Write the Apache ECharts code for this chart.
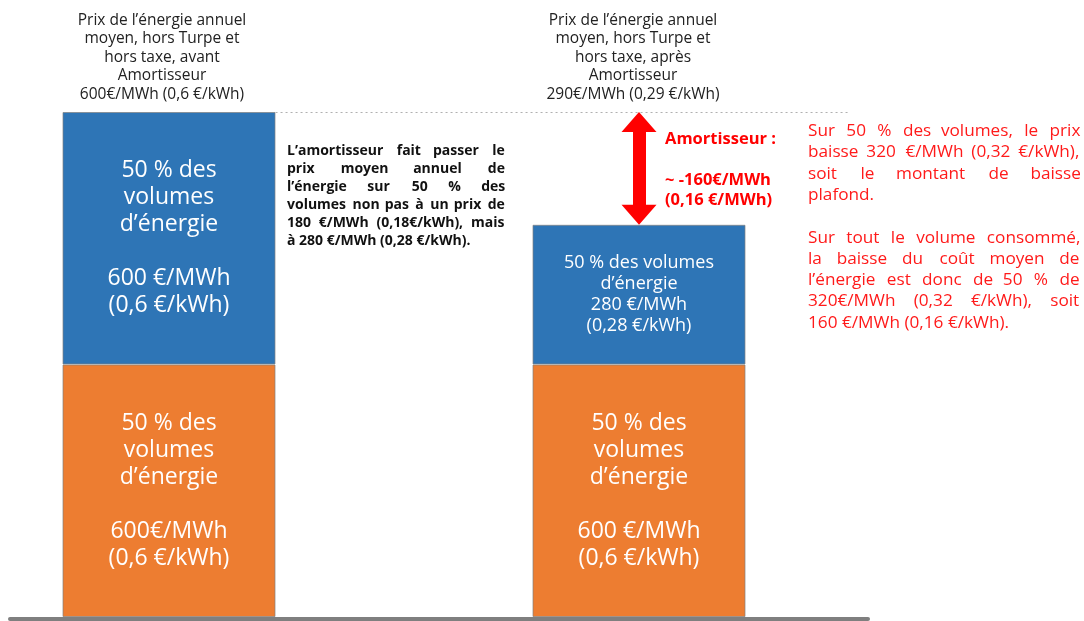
<!DOCTYPE html>
<html><head><meta charset="utf-8">
<script src="https://cdn.jsdelivr.net/npm/echarts@6/dist/echarts.min.js"></script>
<style>html,body{margin:0;padding:0;background:#fff}#c{width:1084px;height:621px}</style>
</head><body><div id="c"></div>
<script>
// ---- data ----
// empty slots are spacer columns (they hold the explanatory notes)
const categories = ['Avant Amortisseur', '', 'Après Amortisseur', ''];
const orangeValues = [300, '-', 300, '-'];
const blueValues = [300, '-', 166, '-'];
const orangeLabels = [
  "50 % des\nvolumes\nd\u2019énergie\n\n600€/MWh\n(0,6 €/kWh)",
  "",
  "50 % des\nvolumes\nd\u2019énergie\n\n600 €/MWh\n(0,6 €/kWh)",
  ""
];
const blueLabels = [
  "50 % des\nvolumes\nd\u2019énergie\n\n600 €/MWh\n(0,6 €/kWh)",
  "",
  "50 % des volumes\nd\u2019énergie\n280 €/MWh\n(0,28 €/kWh)",
  ""
];
const titles = [
  "Prix de l\u2019énergie annuel\nmoyen, hors Turpe et\nhors taxe, avant\nAmortisseur\n600€/MWh (0,6 €/kWh)",
  "Prix de l\u2019énergie annuel\nmoyen, hors Turpe et\nhors taxe, après\nAmortisseur\n290€/MWh (0,29 €/kWh)"
];
const capLevel = 600;
const capLineSpan = [0.453, 2.889]; // in category-slot units
const middleLines = [
  "L\u2019amortisseur fait passer le",
  "prix moyen annuel de",
  "l\u2019énergie sur 50 % des",
  "volumes non pas à un prix de",
  "180 €/MWh (0,18€/kWh), mais",
  "à 280 €/MWh (0,28 €/kWh)."
];
const arrowTitle = "Amortisseur :";
const arrowValue = "~ -160€/MWh\n(0,16 €/MWh)";
const redPara1 = [
  "Sur 50 % des volumes, le prix",
  "baisse 320 €/MWh (0,32 €/kWh),",
  "soit le montant de baisse",
  "plafond."
];
const redPara2 = [
  "Sur tout le volume consommé,",
  "la baisse du coût moyen de",
  "l\u2019énergie est donc de 50 % de",
  "320€/MWh (0,32 €/kWh), soit",
  "160 €/MWh (0,16 €/kWh)."
];

// ---- layout helpers ----
const FONT = '"Open Sans"';
const GRID_TOP = 112, GRID_BOTTOM = 4, H = 621;
const pxPerUnit = (H - GRID_TOP - GRID_BOTTOM) / capLevel;
const headLen = 20;

const ctx = document.createElement('canvas').getContext('2d');
function justify(lines, font, width) {
  ctx.font = font;
  const sp = ctx.measureText(' ').width;
  const hair = '\u200A';
  const hw = ctx.measureText(hair).width || 1;
  return lines.map((ln, i) => {
    if (i === lines.length - 1) return ln;
    const words = ln.split(' ');
    const gaps = words.length - 1;
    if (gaps < 1) return ln;
    const natural = ctx.measureText(words.join(' ')).width;
    const extra = Math.max(0, width - natural);
    const totalHair = Math.round(extra / hw);
    let out = words[0];
    let used = 0;
    for (let g = 1; g <= gaps; g++) {
      const target = Math.round(totalHair * g / gaps);
      const n = target - used; used = target;
      out += ' ' + hair.repeat(n) + words[g];
    }
    return out;
  }).join('\n');
}

const middleFont = 'bold 14px ' + FONT;
const redFont = '17.2px ' + FONT;
const middleText = justify(middleLines, middleFont, 218);
const redText = justify(redPara1, redFont, 272) + '\n\n' + justify(redPara2, redFont, 272);

const chart = echarts.init(document.getElementById('c'), null, {renderer: 'canvas'});

const orangeData = orangeValues.map((v, i) => ({value: v, label: {formatter: orangeLabels[i]}}));
const blueData = blueValues.map((v, i) => ({
  value: v,
  label: i === 2 ? {formatter: blueLabels[i], fontSize: 18, lineHeight: 21} : {formatter: blueLabels[i]}
}));
const rightTotal = orangeValues[2] + blueValues[2];
const tipShift = (headLen / 2) / pxPerUnit;

const barStyle = {borderColor: 'rgba(130,130,130,0.7)', borderWidth: 1};
const barLabel = {show: true, position: 'inside', color: '#fff', fontFamily: FONT, fontSize: 23, lineHeight: 27};

chart.setOption({
  animation: false,
  grid: [
    {left: 51.5, right: 92.5, top: GRID_TOP, bottom: GRID_BOTTOM},
    {left: 10, right: 216, top: GRID_TOP, bottom: 2}
  ],
  xAxis: [
    {type: 'category', data: categories, show: false},
    {type: 'value', gridIndex: 1, min: -0.677, max: 2.974,
     axisLine: {show: true, onZero: false, lineStyle: {color: '#7f7f7f', width: 4}},
     axisTick: {show: false}, axisLabel: {show: false}, splitLine: {show: false}}
  ],
  yAxis: [
    {type: 'value', min: 0, max: capLevel, show: false, splitLine: {show: false}},
    {type: 'value', gridIndex: 1, min: 0, max: capLevel, show: false, splitLine: {show: false}}
  ],
  series: [
    {
      name: 'orange', type: 'bar', stack: 's', barWidth: 213,
      itemStyle: Object.assign({color: '#ed7d31'}, barStyle),
      label: barLabel,
      data: orangeData
    },
    {
      name: 'blue', type: 'bar', stack: 's', barWidth: 213, clip: false,
      itemStyle: Object.assign({color: '#2e75b6'}, barStyle),
      label: barLabel,
      data: blueData,
      markLine: {
        silent: true, animation: false,
        label: {show: false},
        data: [
          [{coord: [2, capLevel - tipShift], symbol: 'triangle', symbolSize: [35, headLen], lineStyle: {type: 'solid', color: '#ff0000', width: 13}},
           {coord: [2, rightTotal + tipShift], symbol: 'triangle', symbolSize: [35, headLen]}]
        ]
      }
    },
    {
      name: 'cap', type: 'line', xAxisIndex: 1, yAxisIndex: 1, data: [], clip: false,
      markLine: {
        silent: true, animation: false, symbol: 'none',
        label: {show: false},
        lineStyle: {type: [2, 3], color: '#b0b0b0', width: 1},
        data: [[{coord: [capLineSpan[0], capLevel]}, {coord: [capLineSpan[1], capLevel]}]]
      }
    }
  ],
  graphic: [
    {type: 'text', x: 162, y: 11, style: {text: titles[0], font: '15.5px ' + FONT, fill: '#222', align: 'center', verticalAlign: 'top', lineHeight: 18.5}},
    {type: 'text', x: 633, y: 11, style: {text: titles[1], font: '15.5px ' + FONT, fill: '#222', align: 'center', verticalAlign: 'top', lineHeight: 18.5}},
    {type: 'text', x: 287, y: 142, style: {text: middleText, font: middleFont, fill: '#111', verticalAlign: 'top', lineHeight: 18}},
    {type: 'text', x: 665, y: 129, style: {text: arrowTitle, font: 'bold 16.5px ' + FONT, fill: '#ff0000', verticalAlign: 'top', lineHeight: 20}},
    {type: 'text', x: 665, y: 170, style: {text: arrowValue, font: 'bold 16.5px ' + FONT, fill: '#ff0000', verticalAlign: 'top', lineHeight: 20}},
    {type: 'text', x: 808, y: 120.5, style: {text: redText, font: redFont, fill: '#ff1a1a', verticalAlign: 'top', lineHeight: 21.3}}
  ]
});
</script></body></html>
